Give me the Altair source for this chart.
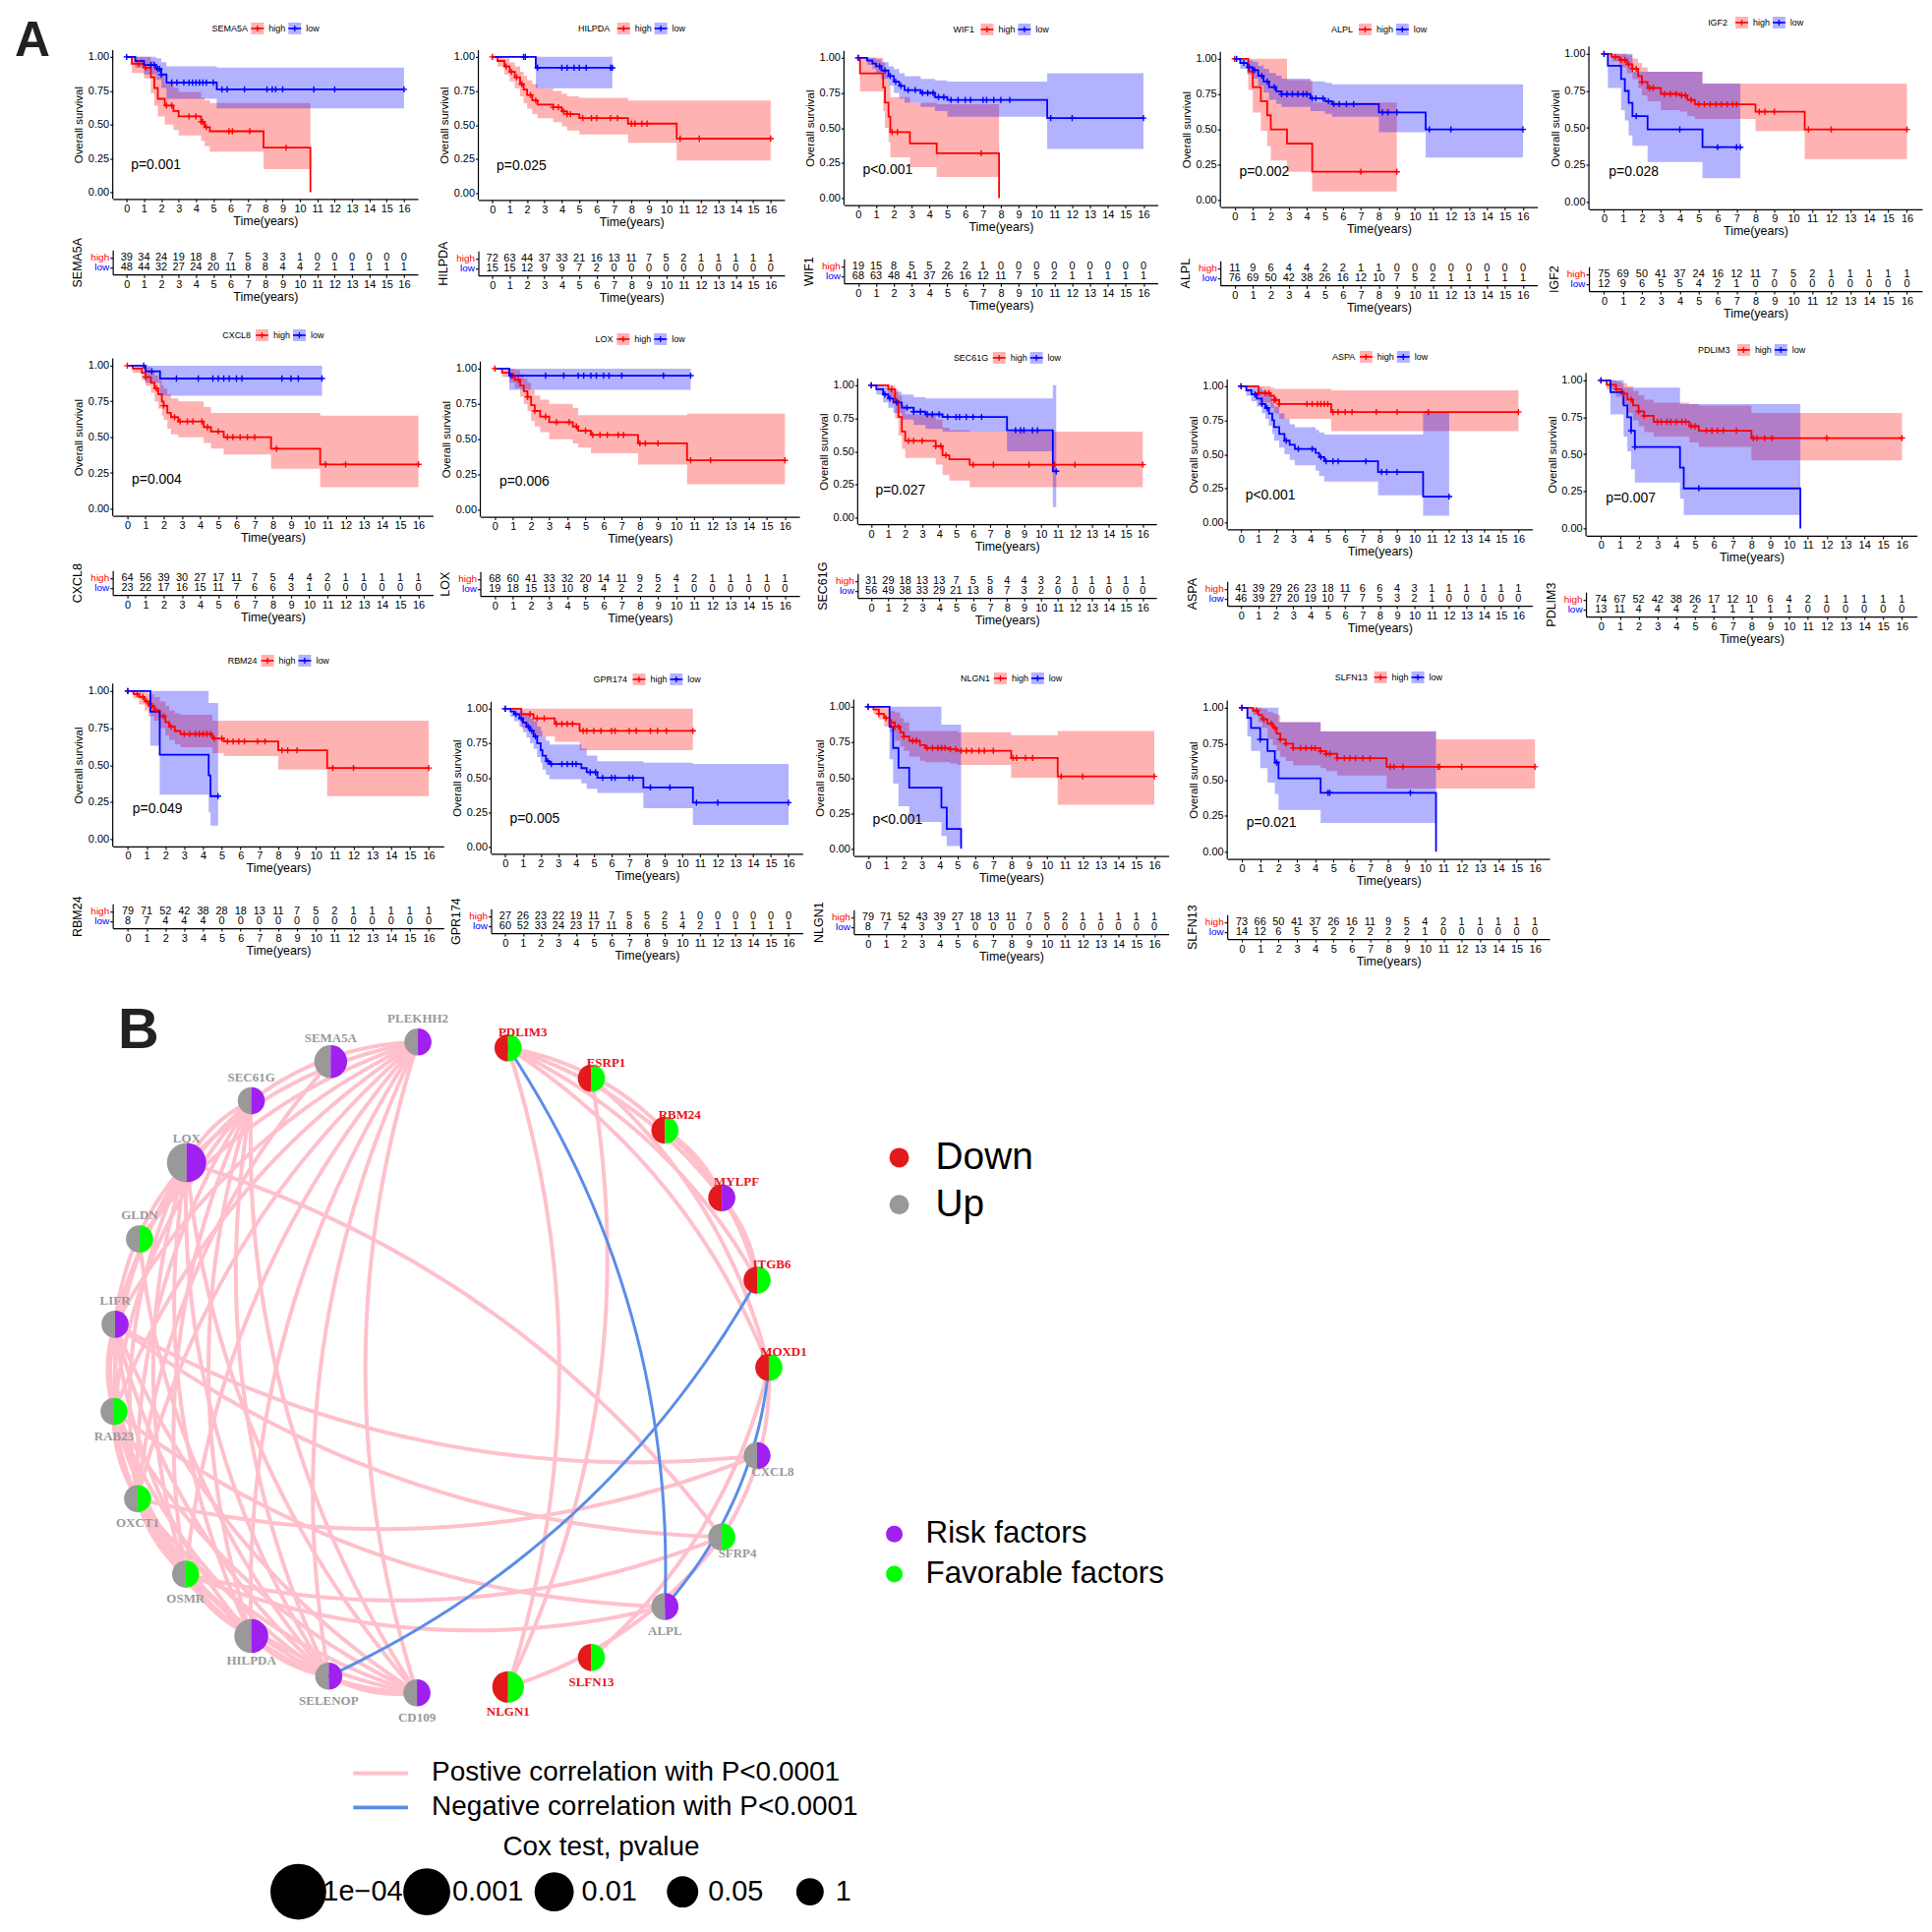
import math
import altair as alt
import pandas as pd

# ------------------------------------------------------------------ data (A)
GENES = ["SEMA5A", "HILPDA", "WIF1", "ALPL", "IGF2", "CXCL8", "LOX", "SEC61G",
         "ASPA", "PDLIM3", "RBM24", "GPR174", "NLGN1", "SLFN13"]
P_LABELS = ["p=0.001", "p=0.025", "p<0.001", "p=0.002", "p=0.028", "p=0.004", "p=0.006",
            "p=0.027", "p<0.001", "p=0.007", "p=0.049", "p=0.005", "p<0.001", "p=0.021"]
TIMES = list(range(17))

# (time, survival, lower CI, upper CI) step points; last point = end of follow-up
SEMA5A_HIGH = [(0,1,1,1),(0.3,0.95,0.88,1.0),(1.0,0.92,0.84,1.0),(1.4,0.85,0.73,0.97),(1.6,0.77,0.64,0.92),(1.8,0.69,0.56,0.86),(2.2,0.64,0.50,0.80),(2.7,0.60,0.46,0.77),(3.0,0.56,0.42,0.74),(4.3,0.52,0.38,0.70),(4.5,0.48,0.34,0.68),(4.8,0.45,0.30,0.66),(7.9,0.33,0.17,0.66),(10.6,0.0,0.17,0.66)]
SEMA5A_HIGH_CENS = [0.7,1.1,2.3,2.6,3.6,4.0,4.3,4.4,4.6,5.9,6.1,7.1,9.2]
SEMA5A_LOW = [(0,1,1,1),(0.5,0.97,0.92,1.0),(1.0,0.94,0.87,1.0),(1.7,0.91,0.83,0.99),(2.0,0.87,0.77,0.96),(2.3,0.81,0.69,0.93),(5.2,0.76,0.62,0.92),(16.0,0.76,0.62,0.92)]
SEMA5A_LOW_CENS = [0.0,1.4,1.6,1.8,1.9,2.0,2.6,2.9,3.3,3.6,3.8,4.0,4.2,4.4,4.6,5.0,5.5,5.8,6.8,8.1,8.4,8.6,9.0,10.8,12.0,16.0]
SEMA5A_RISK_HIGH = [39,34,24,19,18,8,7,5,3,3,1,0,0,0,0,0,0]
SEMA5A_RISK_LOW = [48,44,32,27,24,20,11,8,8,4,4,2,1,1,1,1,1]

HILPDA_HIGH = [(0,1,1,1),(0.3,0.97,0.93,1.0),(0.7,0.93,0.87,0.99),(1.0,0.89,0.82,0.96),(1.3,0.85,0.77,0.93),(1.6,0.80,0.71,0.89),(1.8,0.76,0.66,0.86),(2.0,0.72,0.62,0.83),(2.3,0.68,0.58,0.80),(2.6,0.65,0.55,0.77),(3.5,0.63,0.52,0.75),(4.0,0.60,0.49,0.73),(4.3,0.58,0.46,0.71),(5.0,0.55,0.43,0.70),(7.8,0.51,0.37,0.68),(10.6,0.40,0.24,0.68),(16.0,0.40,0.24,0.68)]
HILPDA_HIGH_CENS = [0.0,0.8,1.1,1.4,1.7,2.2,2.5,3.5,3.8,4.1,4.3,4.5,5.2,5.7,6.0,6.8,7.2,8.0,8.2,8.6,8.9,10.8,11.9,16.0]
HILPDA_LOW = [(0,1,1,1),(2.5,0.92,0.77,1.0),(6.9,0.92,0.77,1.0)]
HILPDA_LOW_CENS = [1.8,1.9,2.6,4.0,4.3,4.7,5.0,5.4,6.8,6.9]
HILPDA_RISK_HIGH = [72,63,44,37,33,21,16,13,11,7,5,2,1,1,1,1,1]
HILPDA_RISK_LOW = [15,15,12,9,9,7,2,0,0,0,0,0,0,0,0,0,0]

WIF1_HIGH = [(0,1,1,1),(0.1,0.89,0.76,1.0),(1.4,0.79,0.62,0.97),(1.5,0.68,0.50,0.90),(1.7,0.58,0.40,0.80),(1.8,0.47,0.29,0.72),(2.9,0.39,0.22,0.68),(4.4,0.32,0.15,0.67),(7.9,0.0,0.15,0.67)]
WIF1_HIGH_CENS = [0.0,1.9,2.2,6.9]
WIF1_LOW = [(0,1,1,1),(0.5,0.98,0.95,1.0),(0.8,0.96,0.92,1.0),(1.0,0.94,0.89,0.99),(1.3,0.91,0.85,0.97),(1.7,0.87,0.80,0.94),(2.0,0.83,0.75,0.92),(2.3,0.80,0.71,0.89),(2.6,0.77,0.68,0.87),(3.5,0.75,0.65,0.85),(4.3,0.72,0.62,0.84),(5.0,0.70,0.58,0.83),(10.6,0.57,0.35,0.89),(16.0,0.57,0.35,0.89)]
WIF1_LOW_CENS = [0.0,1.2,1.5,1.8,2.1,2.4,2.8,3.2,3.6,3.9,4.2,4.5,4.8,5.2,5.6,6.0,6.3,7.0,7.2,7.6,8.0,8.5,10.8,12.0,16.0]
WIF1_RISK_HIGH = [19,15,8,5,5,2,2,1,0,0,0,0,0,0,0,0,0]
WIF1_RISK_LOW = [68,63,48,41,37,26,16,12,11,7,5,2,1,1,1,1,1]

ALPL_HIGH = [(0,1,1,1),(0.75,0.91,0.78,1.0),(1.0,0.80,0.62,1.0),(1.45,0.70,0.49,1.0),(1.8,0.60,0.38,1.0),(2.0,0.50,0.28,1.0),(2.9,0.40,0.20,0.85),(4.3,0.20,0.06,0.69),(9.0,0.20,0.06,0.69)]
ALPL_HIGH_CENS = [0.0,7.0,9.0]
ALPL_LOW = [(0,1,1,1),(0.3,0.97,0.93,1.0),(0.7,0.94,0.89,0.99),(1.0,0.92,0.86,0.98),(1.3,0.88,0.81,0.95),(1.6,0.84,0.76,0.93),(1.9,0.80,0.71,0.90),(2.3,0.77,0.68,0.88),(2.6,0.75,0.66,0.86),(4.2,0.72,0.63,0.84),(5.0,0.70,0.61,0.83),(5.4,0.68,0.59,0.82),(8.0,0.62,0.48,0.82),(10.6,0.50,0.30,0.82),(16.0,0.50,0.30,0.82)]
ALPL_LOW_CENS = [0.1,0.5,0.8,1.1,1.5,1.8,2.2,2.6,2.9,3.2,3.5,3.8,4.0,4.3,4.5,4.9,5.2,5.5,5.8,6.2,6.6,8.2,8.5,9.0,10.8,12.0,16.0]
ALPL_RISK_HIGH = [11,9,6,4,4,2,2,1,1,0,0,0,0,0,0,0,0]
ALPL_RISK_LOW = [76,69,50,42,38,26,16,12,10,7,5,2,1,1,1,1,1]

IGF2_HIGH = [(0,1,1,1),(0.4,0.98,0.95,1.0),(0.8,0.96,0.91,1.0),(1.2,0.93,0.87,0.99),(1.5,0.90,0.83,0.97),(1.8,0.85,0.77,0.94),(2.0,0.81,0.72,0.91),(2.3,0.77,0.68,0.88),(3.0,0.73,0.62,0.88),(4.0,0.72,0.61,0.88),(4.4,0.69,0.58,0.88),(4.8,0.66,0.56,0.88),(5.2,0.66,0.56,0.80),(8.0,0.61,0.48,0.80),(10.6,0.49,0.29,0.80),(16.0,0.49,0.29,0.80)]
IGF2_HIGH_CENS = [0.0,0.6,0.9,1.1,1.3,1.5,1.7,2.0,2.4,2.6,3.2,3.5,3.8,4.1,4.3,4.6,5.0,5.3,5.6,5.9,6.2,6.5,6.8,7.0,8.2,8.5,9.0,10.8,12.0,16.0]
IGF2_LOW = [(0,1,1,1),(0.2,0.92,0.77,1.0),(0.9,0.83,0.62,1.0),(1.1,0.75,0.55,1.0),(1.3,0.67,0.45,1.0),(1.5,0.58,0.38,0.88),(2.3,0.49,0.27,0.88),(5.2,0.37,0.16,0.80),(7.2,0.37,0.16,0.80)]
IGF2_LOW_CENS = [0.0,1.7,4.0,6.0,7.0,7.2]
IGF2_RISK_HIGH = [75,69,50,41,37,24,16,12,11,7,5,2,1,1,1,1,1]
IGF2_RISK_LOW = [12,9,6,5,5,4,2,1,0,0,0,0,0,0,0,0,0]

CXCL8_HIGH = [(0,1,1,1),(0.3,0.98,0.95,1.0),(0.8,0.95,0.90,1.0),(1.0,0.92,0.86,0.99),(1.3,0.88,0.81,0.96),(1.5,0.84,0.75,0.93),(1.7,0.80,0.70,0.90),(1.9,0.75,0.65,0.86),(2.0,0.72,0.62,0.84),(2.2,0.67,0.56,0.80),(2.4,0.64,0.52,0.77),(2.8,0.61,0.50,0.75),(4.2,0.57,0.46,0.71),(4.6,0.54,0.42,0.67),(5.3,0.50,0.38,0.67),(7.9,0.42,0.28,0.67),(10.6,0.31,0.15,0.65),(16.0,0.31,0.15,0.65)]
CXCL8_HIGH_CENS = [0.0,1.0,1.6,2.0,2.6,2.9,3.3,3.6,4.1,4.4,5.0,5.5,5.8,6.2,6.6,7.0,8.2,10.9,12.0,16.0]
CXCL8_LOW = [(0,1,1,1),(1.0,0.96,0.88,1.0),(1.8,0.91,0.79,1.0),(10.7,0.91,0.79,1.0)]
CXCL8_LOW_CENS = [0.9,1.35,2.7,3.9,4.7,5.0,5.3,5.6,6.0,6.3,8.5,9.0,9.4,10.7]
CXCL8_RISK_HIGH = [64,56,39,30,27,17,11,7,5,4,4,2,1,1,1,1,1]
CXCL8_RISK_LOW = [23,22,17,16,15,11,7,6,6,3,1,0,0,0,0,0,0]

LOX_HIGH = [(0,1,1,1),(0.4,0.97,0.94,1.0),(0.8,0.95,0.90,1.0),(1.1,0.92,0.86,0.99),(1.4,0.88,0.80,0.96),(1.6,0.84,0.75,0.93),(1.8,0.80,0.70,0.90),(2.0,0.74,0.63,0.85),(2.2,0.70,0.59,0.81),(2.5,0.66,0.55,0.78),(3.0,0.62,0.50,0.75),(4.3,0.59,0.47,0.72),(4.6,0.56,0.44,0.67),(5.3,0.53,0.40,0.67),(7.9,0.47,0.32,0.67),(10.6,0.35,0.18,0.68),(16.0,0.35,0.18,0.68)]
LOX_HIGH_CENS = [0.0,1.0,1.3,1.8,2.2,2.8,3.4,4.1,4.5,5.0,5.4,5.8,6.2,6.8,7.1,8.0,8.3,9.0,10.8,11.9,16.0]
LOX_LOW = [(0,1,1,1),(0.8,0.95,0.85,1.0),(10.8,0.95,0.85,1.0)]
LOX_LOW_CENS = [0.9,2.8,3.8,4.6,4.9,5.3,5.6,6.0,6.3,7.0,9.3,10.8]
LOX_RISK_HIGH = [68,60,41,33,32,20,14,11,9,5,4,2,1,1,1,1,1]
LOX_RISK_LOW = [19,18,15,13,10,8,4,2,2,2,1,0,0,0,0,0,0]

SEC61G_HIGH = [(0,1,1,1),(1.0,0.97,0.91,1.0),(1.4,0.88,0.75,0.97),(1.6,0.76,0.62,0.92),(1.8,0.65,0.52,0.85),(2.0,0.58,0.45,0.78),(3.8,0.54,0.40,0.74),(4.2,0.47,0.32,0.68),(4.6,0.44,0.28,0.66),(5.8,0.40,0.23,0.65),(16.0,0.40,0.23,0.65)]
SEC61G_HIGH_CENS = [0.0,1.2,1.5,2.2,2.5,3.0,3.8,4.1,4.4,6.0,7.2,9.3,10.8,12.0,16.0]
SEC61G_LOW = [(0,1,1,1),(0.3,0.97,0.93,1.0),(0.7,0.93,0.87,0.99),(1.0,0.90,0.83,0.97),(1.3,0.87,0.79,0.95),(1.8,0.83,0.74,0.93),(2.5,0.80,0.70,0.91),(3.2,0.78,0.67,0.90),(4.2,0.76,0.65,0.90),(8.0,0.66,0.50,0.90),(10.7,0.35,0.08,1.0),(10.9,0.35,0.08,1.0)]
SEC61G_LOW_CENS = [0.0,0.8,1.1,1.5,2.1,2.5,2.9,3.3,3.6,4.0,4.5,5.0,5.2,5.6,6.0,6.5,8.5,8.8,9.0,9.5,9.8,10.9]
SEC61G_RISK_HIGH = [31,29,18,13,13,7,5,5,4,4,3,2,1,1,1,1,1]
SEC61G_RISK_LOW = [56,49,38,33,29,21,13,8,7,3,2,0,0,0,0,0,0]

ASPA_HIGH = [(0,1,1,1),(1.0,0.95,0.88,1.0),(1.7,0.93,0.84,0.99),(1.9,0.90,0.80,0.98),(2.2,0.87,0.76,0.98),(5.2,0.81,0.67,0.97),(16.0,0.81,0.67,0.97)]
ASPA_HIGH_CENS = [0.0,1.0,1.4,1.6,1.9,2.0,2.2,3.8,4.1,4.4,4.6,4.8,5.0,5.3,5.6,6.0,6.4,7.8,9.0,10.8,16.0]
ASPA_LOW = [(0,1,1,1),(0.3,0.97,0.93,1.0),(0.6,0.94,0.89,1.0),(0.9,0.91,0.85,0.99),(1.2,0.87,0.80,0.97),(1.4,0.84,0.76,0.95),(1.6,0.80,0.71,0.93),(1.8,0.75,0.65,0.88),(1.9,0.70,0.60,0.85),(2.2,0.65,0.55,0.80),(2.5,0.60,0.50,0.76),(2.8,0.57,0.46,0.72),(3.1,0.54,0.42,0.70),(4.3,0.51,0.38,0.68),(4.5,0.48,0.34,0.66),(4.8,0.45,0.30,0.645),(7.9,0.37,0.20,0.645),(10.5,0.19,0.05,0.81),(12.0,0.19,0.05,0.81)]
ASPA_LOW_CENS = [0.0,0.8,1.2,1.5,2.6,3.3,4.1,4.6,4.9,5.3,5.6,7.2,8.1,8.4,9.0,12.0]
ASPA_RISK_HIGH = [41,39,29,26,23,18,11,6,6,4,3,1,1,1,1,1,1]
ASPA_RISK_LOW = [46,39,27,20,19,10,7,7,5,3,2,1,0,0,0,0,0]

PDLIM3_HIGH = [(0,1,1,1),(0.3,0.97,0.94,1.0),(0.8,0.94,0.89,0.99),(1.1,0.91,0.84,0.98),(1.4,0.87,0.78,0.96),(1.7,0.83,0.73,0.93),(2.0,0.79,0.69,0.90),(2.3,0.76,0.65,0.87),(2.8,0.72,0.62,0.85),(4.7,0.69,0.58,0.84),(5.2,0.66,0.55,0.83),(8.0,0.61,0.46,0.78),(16.0,0.61,0.46,0.78)]
PDLIM3_HIGH_CENS = [0.0,0.8,1.2,1.6,2.0,2.3,3.0,3.2,3.5,3.7,4.0,4.3,4.5,4.8,5.0,5.6,5.9,6.2,6.5,7.2,8.1,8.3,8.7,9.1,12.0,16.0]
PDLIM3_LOW = [(0,1,1,1),(0.5,0.92,0.77,1.0),(1.2,0.83,0.62,0.95),(1.4,0.75,0.52,0.95),(1.6,0.66,0.40,0.95),(1.8,0.55,0.31,0.95),(4.2,0.41,0.20,0.84),(4.4,0.27,0.09,0.84),(10.6,0.0,0.09,0.84)]
PDLIM3_LOW_CENS = [0.0,1.6,1.8,5.2]
PDLIM3_RISK_HIGH = [74,67,52,42,38,26,17,12,10,6,4,2,1,1,1,1,1]
PDLIM3_RISK_LOW = [13,11,4,4,4,2,1,1,1,1,1,0,0,0,0,0,0]

RBM24_HIGH = [(0,1,1,1),(0.3,0.98,0.95,1.0),(0.6,0.96,0.91,1.0),(0.9,0.93,0.87,0.99),(1.1,0.90,0.83,0.98),(1.4,0.87,0.80,0.96),(1.7,0.83,0.75,0.93),(2.0,0.79,0.70,0.90),(2.2,0.76,0.67,0.87),(2.5,0.73,0.64,0.85),(2.8,0.71,0.62,0.84),(4.5,0.68,0.58,0.80),(5.1,0.66,0.56,0.80),(8.0,0.60,0.47,0.80),(10.6,0.48,0.29,0.80),(16.0,0.48,0.29,0.80)]
RBM24_HIGH_CENS = [0.0,0.5,0.8,1.0,1.3,1.5,1.9,2.3,3.0,3.3,3.6,3.8,4.0,4.2,4.4,4.6,5.0,5.3,5.6,5.9,6.2,6.9,7.3,8.2,8.5,9.0,10.9,12.0,16.0]
RBM24_LOW = [(0,1,1,1),(1.2,0.86,0.63,1.0),(1.7,0.57,0.30,1.0),(4.3,0.43,0.18,0.92),(4.4,0.29,0.09,0.92),(4.8,0.29,0.09,0.92)]
RBM24_LOW_CENS = [0.0,4.8]
RBM24_RISK_HIGH = [79,71,52,42,38,28,18,13,11,7,5,2,1,1,1,1,1]
RBM24_RISK_LOW = [8,7,4,4,4,0,0,0,0,0,0,0,0,0,0,0,0]

GPR174_HIGH = [(0,1,1,1),(0.9,0.96,0.86,1.0),(1.6,0.93,0.80,1.0),(2.8,0.89,0.76,1.0),(4.2,0.84,0.70,1.0),(10.6,0.84,0.70,1.0)]
GPR174_HIGH_CENS = [0.0,1.4,1.8,2.2,2.9,3.2,3.5,3.8,4.4,4.6,5.0,5.4,6.0,6.2,7.0,7.4,8.2,8.6,9.1,10.6]
GPR174_LOW = [(0,1,1,1),(0.3,0.98,0.94,1.0),(0.5,0.96,0.91,1.0),(0.8,0.93,0.87,0.99),(1.0,0.90,0.83,0.97),(1.2,0.87,0.79,0.96),(1.4,0.84,0.75,0.93),(1.6,0.80,0.71,0.91),(1.8,0.75,0.65,0.87),(2.0,0.70,0.61,0.84),(2.1,0.66,0.56,0.80),(2.3,0.62,0.52,0.77),(2.5,0.60,0.49,0.74),(4.3,0.57,0.46,0.71),(4.6,0.54,0.42,0.66),(5.2,0.50,0.39,0.62),(7.8,0.43,0.28,0.61),(10.6,0.32,0.16,0.60),(16.0,0.32,0.16,0.60)]
GPR174_LOW_CENS = [0.0,0.6,0.9,1.3,1.5,1.7,2.4,2.6,3.2,3.5,3.8,4.0,4.8,5.1,5.5,6.0,6.2,7.0,7.2,8.2,9.3,10.8,12.0,16.0]
GPR174_RISK_HIGH = [27,26,23,22,19,11,7,5,5,2,1,0,0,0,0,0,0]
GPR174_RISK_LOW = [60,52,33,24,23,17,11,8,6,5,4,2,1,1,1,1,1]

NLGN1_HIGH = [(0,1,1,1),(0.3,0.98,0.95,1.0),(0.6,0.95,0.91,1.0),(0.9,0.92,0.86,0.99),(1.2,0.89,0.82,0.97),(1.5,0.86,0.76,0.96),(1.8,0.82,0.72,0.92),(2.0,0.79,0.69,0.89),(2.3,0.76,0.65,0.83),(2.9,0.73,0.62,0.83),(3.2,0.71,0.61,0.83),(4.6,0.70,0.60,0.83),(5.0,0.69,0.59,0.82),(8.0,0.64,0.50,0.80),(10.6,0.51,0.31,0.83),(16.0,0.51,0.31,0.83)]
NLGN1_HIGH_CENS = [0.0,0.6,1.0,1.3,1.5,1.7,2.0,2.5,2.7,3.3,3.6,3.9,4.1,4.3,4.6,4.9,5.2,5.5,5.8,6.2,6.5,7.0,8.1,8.3,8.8,9.2,10.8,12.0,16.0]
NLGN1_LOW = [(0,1,1,1),(1.2,0.86,0.63,1.0),(1.4,0.71,0.46,1.0),(1.7,0.57,0.30,1.0),(2.3,0.43,0.19,1.0),(4.1,0.29,0.09,0.875),(4.4,0.14,0.02,0.875),(5.2,0.0,0.02,0.875)]
NLGN1_LOW_CENS = [0.0]
NLGN1_RISK_HIGH = [79,71,52,43,39,27,18,13,11,7,5,2,1,1,1,1,1]
NLGN1_RISK_LOW = [8,7,4,3,3,1,0,0,0,0,0,0,0,0,0,0,0]

SLFN13_HIGH = [(0,1,1,1),(0.6,0.98,0.95,1.0),(0.9,0.95,0.90,1.0),(1.1,0.92,0.86,0.99),(1.4,0.89,0.78,0.97),(1.7,0.86,0.74,0.96),(1.9,0.82,0.70,0.95),(2.1,0.78,0.66,0.90),(2.4,0.75,0.63,0.90),(2.8,0.72,0.60,0.90),(4.3,0.70,0.58,0.835),(4.6,0.68,0.56,0.835),(5.2,0.65,0.53,0.835),(7.9,0.59,0.44,0.835),(10.6,0.59,0.44,0.78),(16.0,0.59,0.44,0.78)]
SLFN13_HIGH_CENS = [0.0,0.8,1.2,1.6,1.8,2.1,2.4,2.8,3.2,3.5,3.8,4.0,4.3,4.6,4.8,5.2,5.6,5.9,6.2,6.6,7.0,8.1,8.3,8.8,10.7,10.8,12.0,16.0]
SLFN13_LOW = [(0,1,1,1),(0.3,0.93,0.80,1.0),(0.5,0.86,0.70,1.0),(1.0,0.78,0.58,1.0),(1.4,0.70,0.48,1.0),(1.8,0.62,0.40,1.0),(2.0,0.51,0.29,0.90),(4.3,0.41,0.20,0.836),(10.6,0.0,0.20,0.836)]
SLFN13_LOW_CENS = [0.0,1.0,1.9,4.7,4.8,9.2]
SLFN13_RISK_HIGH = [73,66,50,41,37,26,16,11,9,5,4,2,1,1,1,1,1]
SLFN13_RISK_LOW = [14,12,6,5,5,2,2,2,2,2,1,0,0,0,0,0,0]

# ------------------------------------------------------------------ data (B)
NODE_NAMES = ["PLEKHH2","SEMA5A","SEC61G","LOX","GLDN","LIFR","RAB23","OXCT1","OSMR","HILPDA","SELENOP","CD109",
              "NLGN1","SLFN13","ALPL","SFRP4","CXCL8","MOXD1","ITGB6","MYLPF","RBM24","ESRP1","PDLIM3"]
NODE_X = [426,337,256,190,142,117,116,140,189,256,335,425,518,603,678,736,772,784,772,736,678,603,518]
NODE_Y = [1054,1074,1114,1177,1255,1342,1431,1520,1597,1660,1701,1718,1712,1682,1630,1559,1476,1386,1297,1213,1144,1091,1060]
NODE_REG = ["Up"]*12 + ["Down","Down","Up","Up","Up","Down","Down","Down","Down","Down","Down"]
NODE_ROLE = ["Risk","Risk","Risk","Risk","Favorable","Risk","Favorable","Favorable","Favorable","Risk","Risk","Risk",
             "Favorable","Favorable","Risk","Favorable","Risk","Favorable","Favorable","Risk","Favorable","Favorable","Favorable"]
NODE_COX_P = [0.5,0.012,0.5,0.001,0.5,0.5,0.5,0.5,0.5,0.008,0.5,0.5,0.02,0.5,0.5,0.5,0.6,0.5,0.5,0.5,0.5,0.5,0.5]
NODE_LABEL_POS = ["above"]*6 + ["below"]*9 + ["belowright"]*2 + ["aboveright"]*6

EDGES_POS = [
    ("PLEKHH2","SEC61G"),("PLEKHH2","LOX"),("PLEKHH2","GLDN"),("PLEKHH2","LIFR"),("PLEKHH2","RAB23"),
    ("PLEKHH2","OXCT1"),("PLEKHH2","OSMR"),("PLEKHH2","HILPDA"),("PLEKHH2","SELENOP"),("PLEKHH2","CD109"),
    ("SEMA5A","OXCT1"),
    ("SEC61G","LOX"),("SEC61G","LIFR"),("SEC61G","RAB23"),("SEC61G","OXCT1"),("SEC61G","OSMR"),
    ("SEC61G","HILPDA"),("SEC61G","SELENOP"),("SEC61G","CD109"),
    ("LOX","LIFR"),("LOX","RAB23"),("LOX","OXCT1"),("LOX","OSMR"),("LOX","HILPDA"),("LOX","SELENOP"),
    ("LOX","CD109"),("LOX","SFRP4"),
    ("GLDN","SELENOP"),
    ("LIFR","RAB23"),("LIFR","OXCT1"),("LIFR","OSMR"),("LIFR","HILPDA"),("LIFR","SELENOP"),("LIFR","CD109"),
    ("LIFR","CXCL8"),("LIFR","SFRP4"),
    ("RAB23","OXCT1"),("RAB23","OSMR"),("RAB23","HILPDA"),("RAB23","SELENOP"),("RAB23","CD109"),("RAB23","ALPL"),
    ("OXCT1","OSMR"),("OXCT1","HILPDA"),("OXCT1","SELENOP"),("OXCT1","CD109"),("OXCT1","CXCL8"),
    ("OSMR","HILPDA"),("OSMR","SELENOP"),("OSMR","CD109"),("OSMR","SFRP4"),
    ("HILPDA","SELENOP"),("HILPDA","CD109"),("SELENOP","CD109"),
    ("PDLIM3","RBM24"),("PDLIM3","MYLPF"),("PDLIM3","ITGB6"),("PDLIM3","MOXD1"),("PDLIM3","NLGN1"),
    ("ESRP1","MOXD1"),("ESRP1","NLGN1"),
    ("RBM24","MYLPF"),("RBM24","ITGB6"),("MYLPF","ITGB6"),
    ("MOXD1","SFRP4"),("MOXD1","SLFN13"),("SFRP4","NLGN1"),("ALPL","OSMR"),
]
EDGES_NEG = [("PDLIM3","ALPL"),("ITGB6","SELENOP"),("MOXD1","ALPL")]

# ------------------------------------------------------------------ layout / style
FONT = "Liberation Sans"
SERIF = "Liberation Serif"
RED = "#FF0000"
BLUE = "#0000FF"
PLUS = "M-1,0L1,0M0,-1L0,1"
LEFT_HALF = "M0,-1A1,1,0,0,0,0,1Z"
RIGHT_HALF = "M0,-1A1,1,0,0,1,0,1Z"
PINK = "#FFC0CB"
NEGBLUE = "#5B8DE8"
CAT_COLORS = {"Down": "#E31A1C", "Up": "#999999", "Risk": "#A020F0", "Favorable": "#00FF00"}

# panel geometry (page px): tick0, tick16, y of 1.00, y of 0.00, legend y, risk "high" y
GEOM = {
    "SEMA5A": (126, 409, 55, 193, 26, 259), "HILPDA": (499, 783, 55, 194, 26, 260),
    "WIF1": (872, 1163, 56, 199, 27, 267), "ALPL": (1256, 1550, 57, 201, 27, 269),
    "IGF2": (1632, 1941, 52, 203, 20, 276),
    "CXCL8": (129, 426, 368, 514, 337, 583), "LOX": (503, 799, 371, 515, 341, 584),
    "SEC61G": (887, 1164, 388, 523, 360, 587), "ASPA": (1264, 1547, 389, 528, 359, 595),
    "PDLIM3": (1631, 1938, 383, 534, 352, 606),
    "RBM24": (130, 437, 698, 849, 667, 922), "GPR174": (515, 804, 716, 857, 686, 926),
    "NLGN1": (885, 1177, 714, 859, 685, 927), "SLFN13": (1266, 1565, 715, 862, 684, 932),
}
ROWS = [GENES[0:5], GENES[5:10], GENES[10:14]]
ROW_TOP = [8, 328, 658, 985]
B_BOTTOM = 1955

CURVES = {
    "SEMA5A": (SEMA5A_HIGH, SEMA5A_HIGH_CENS, SEMA5A_LOW, SEMA5A_LOW_CENS, SEMA5A_RISK_HIGH, SEMA5A_RISK_LOW),
    "HILPDA": (HILPDA_HIGH, HILPDA_HIGH_CENS, HILPDA_LOW, HILPDA_LOW_CENS, HILPDA_RISK_HIGH, HILPDA_RISK_LOW),
    "WIF1": (WIF1_HIGH, WIF1_HIGH_CENS, WIF1_LOW, WIF1_LOW_CENS, WIF1_RISK_HIGH, WIF1_RISK_LOW),
    "ALPL": (ALPL_HIGH, ALPL_HIGH_CENS, ALPL_LOW, ALPL_LOW_CENS, ALPL_RISK_HIGH, ALPL_RISK_LOW),
    "IGF2": (IGF2_HIGH, IGF2_HIGH_CENS, IGF2_LOW, IGF2_LOW_CENS, IGF2_RISK_HIGH, IGF2_RISK_LOW),
    "CXCL8": (CXCL8_HIGH, CXCL8_HIGH_CENS, CXCL8_LOW, CXCL8_LOW_CENS, CXCL8_RISK_HIGH, CXCL8_RISK_LOW),
    "LOX": (LOX_HIGH, LOX_HIGH_CENS, LOX_LOW, LOX_LOW_CENS, LOX_RISK_HIGH, LOX_RISK_LOW),
    "SEC61G": (SEC61G_HIGH, SEC61G_HIGH_CENS, SEC61G_LOW, SEC61G_LOW_CENS, SEC61G_RISK_HIGH, SEC61G_RISK_LOW),
    "ASPA": (ASPA_HIGH, ASPA_HIGH_CENS, ASPA_LOW, ASPA_LOW_CENS, ASPA_RISK_HIGH, ASPA_RISK_LOW),
    "PDLIM3": (PDLIM3_HIGH, PDLIM3_HIGH_CENS, PDLIM3_LOW, PDLIM3_LOW_CENS, PDLIM3_RISK_HIGH, PDLIM3_RISK_LOW),
    "RBM24": (RBM24_HIGH, RBM24_HIGH_CENS, RBM24_LOW, RBM24_LOW_CENS, RBM24_RISK_HIGH, RBM24_RISK_LOW),
    "GPR174": (GPR174_HIGH, GPR174_HIGH_CENS, GPR174_LOW, GPR174_LOW_CENS, GPR174_RISK_HIGH, GPR174_RISK_LOW),
    "NLGN1": (NLGN1_HIGH, NLGN1_HIGH_CENS, NLGN1_LOW, NLGN1_LOW_CENS, NLGN1_RISK_HIGH, NLGN1_RISK_LOW),
    "SLFN13": (SLFN13_HIGH, SLFN13_HIGH_CENS, SLFN13_LOW, SLFN13_LOW_CENS, SLFN13_RISK_HIGH, SLFN13_RISK_LOW),
}

ONE = pd.DataFrame({"v": [0]})


def step_value(pts, t):
    v = pts[0][1]
    for tt, s, lo, hi in pts:
        if tt <= t + 1e-9:
            v = s
    return v


XS = alt.Scale(domain=[-0.8, 16.8], nice=False, zero=False)
CS = alt.Scale(domain=["high", "low"], range=[RED, BLUE])
XAX = alt.Axis(values=TIMES, title="Time(years)", labelFontSize=11, titleFontSize=12.5,
               tickSize=3, labelPadding=1, titlePadding=1, labelFlush=False)


def legend_layers(gene, cx, cy):
    wg = 6.0 * len(gene)
    s = cx - (wg + 73) / 2
    L = []
    L.append(alt.Chart(ONE).mark_text(align="left", baseline="middle", fontSize=9, font=FONT, color="black")
             .encode(x=alt.value(s), y=alt.value(cy), text=alt.value(gene)))
    for col, x0, lab in ((RED, s + wg + 4, "high"), (BLUE, s + wg + 42, "low")):
        L.append(alt.Chart(ONE).mark_rect(color=col, opacity=0.3)
                 .encode(x=alt.value(x0), x2=alt.value(x0 + 13), y=alt.value(cy - 6), y2=alt.value(cy + 6)))
        L.append(alt.Chart(ONE).mark_rule(color=col, strokeWidth=1.6)
                 .encode(x=alt.value(x0), x2=alt.value(x0 + 13), y=alt.value(cy)))
        L.append(alt.Chart(ONE).mark_point(shape=PLUS, filled=False, size=36, strokeWidth=1.3, color=col, opacity=1)
                 .encode(x=alt.value(x0 + 6.5), y=alt.value(cy)))
        L.append(alt.Chart(ONE).mark_text(align="left", baseline="middle", fontSize=9, font=FONT, color="black")
                 .encode(x=alt.value(x0 + 18), y=alt.value(cy), text=alt.value(lab)))
    return L


def make_panel(gene, pval, r, b_left, b_right, first):
    t0, t16, y1, y0, leg_y, risk_y = GEOM[gene]
    w = t16 - t0
    pl = t0 - 0.05 * w
    pw = 1.1 * w
    span = y0 - y1
    ptop = y1 - 0.05 * span
    ph = 1.1 * span
    pbot = ptop + ph
    F = ROW_TOP[r]                 # common top of every plot frame in the row
    H = pbot - F                   # frame height (plot + room for the legend above it)
    ymax = -0.05 + 1.1 * H / ph
    YS = alt.Scale(domain=[-0.05, ymax], nice=False, zero=False)
    YAX = alt.Axis(values=[0, 0.25, 0.5, 0.75, 1.0], format=".2f", title="Overall survival", titleX=-29,
                   titleY=(ptop - F) + ph / 2, domain=False, labelFontSize=11, titleFontSize=11.5,
                   tickSize=3, labelPadding=1)
    L = pl - b_left
    R = b_right - (pl + pw)
    G = 32
    STEP = 10.0
    PAD = 0.75
    RH = STEP * (1 + 2 * PAD)
    Q = risk_y - PAD * STEP
    Tt = Q - (pbot + G)
    Bb = ROW_TOP[r + 1] - (Q + RH)

    high, high_c, low, low_c, rk_h, rk_l = CURVES[gene]
    rows = []
    for grp, pts in (("high", high), ("low", low)):
        for t, s, lo, hi in pts:
            rows.append({"grp": grp, "t": t, "s": s, "lo": lo, "hi": hi})
    cur = pd.DataFrame(rows)
    cens = pd.DataFrame([{"grp": grp, "t": t, "s": step_value(pts, t)}
                         for grp, pts, cl in (("high", high, high_c), ("low", low, low_c)) for t in cl])

    X = alt.X("t:Q", scale=XS, axis=XAX)
    C = alt.Color("grp:N", scale=CS, legend=None)
    layers = [
        alt.Chart(cur).mark_area(interpolate="step-after", opacity=0.3)
        .encode(x=X, y=alt.Y("lo:Q", scale=YS, axis=YAX), y2="hi:Q", color=C),
        alt.Chart(cur).mark_line(interpolate="step-after", strokeWidth=1.8)
        .encode(x=X, y=alt.Y("s:Q", scale=YS, axis=YAX), color=C),
        alt.Chart(cens).mark_point(shape=PLUS, filled=False, size=40, strokeWidth=1.4, opacity=1)
        .encode(x=X, y=alt.Y("s:Q", scale=YS, axis=YAX), color=C),
        alt.Chart(pd.DataFrame({"t": [0.25], "s": [0.2], "lab": [pval]}))
        .mark_text(align="left", baseline="middle", fontSize=14, font=FONT, color="black")
        .encode(x=X, y=alt.Y("s:Q", scale=YS, axis=YAX), text="lab:N"),
        alt.Chart(ONE).mark_rule(color="black", strokeWidth=1.2)
        .encode(x=alt.value(0), y=alt.datum(-0.05), y2=alt.datum(1.05)),
        alt.Chart(ONE).mark_rect(opacity=0)
        .encode(x=alt.value(-L), x2=alt.value(pw + R), y=alt.value(0), y2=alt.value(H + G)),
    ]
    layers += legend_layers(gene, pw / 2, leg_y - F)
    if first:
        layers.append(alt.Chart(ONE).mark_text(align="center", baseline="alphabetic", fontSize=50,
                                                fontWeight="bold", font=FONT, color="#222222")
                      .encode(x=alt.value(30 - pl), y=alt.value(54 - F), text=alt.value("A")))
    km = alt.layer(*layers).properties(width=pw, height=H)

    rk = pd.DataFrame({"t": TIMES * 2, "grp": ["high"] * 17 + ["low"] * 17, "n": rk_h + rk_l})
    txt = alt.Chart(rk).mark_text(fontSize=11, font=FONT, color="black").encode(
        x=alt.X("t:Q", scale=XS, axis=XAX),
        y=alt.Y("grp:N", scale=alt.Scale(type="point", domain=["high", "low"], padding=PAD),
                axis=alt.Axis(title=gene, titleX=-29, titleFontSize=12.5, labelFontSize=10,
                              labelColor=alt.ExprRef("datum.value == 'high' ? '#FF0000' : '#0000FF'"),
                              tickSize=3, labelPadding=1)),
        text="n:Q")
    rb = alt.Chart(ONE).mark_rect(opacity=0).encode(
        x=alt.value(-L), x2=alt.value(pw + R), y=alt.value(-Tt), y2=alt.value(RH + Bb))
    risk = alt.layer(txt, rb).properties(width=pw, height=RH)
    return alt.vconcat(km, risk, spacing=0)


row_charts = []
first_pls = []
for r, genes in enumerate(ROWS):
    pls = [GEOM[g][0] - 0.05 * (GEOM[g][1] - GEOM[g][0]) for g in genes]
    first_pls.append(pls[0])
    panels = []
    for i, g in enumerate(genes):
        b_left = 8 if i == 0 else pls[i] - 45
        if i < len(genes) - 1:
            b_right = pls[i + 1] - 45
        else:
            b_right = pls[i] + 1.1 * (GEOM[g][1] - GEOM[g][0]) + 2
        panels.append(make_panel(g, P_LABELS[GENES.index(g)], r, b_left, b_right, r == 0 and i == 0))
    row_charts.append(alt.hconcat(*panels, spacing=0))

X0 = max(first_pls)    # all stacked blocks share this left origin

# ------------------------------------------------------------------ panel B
nodes = pd.DataFrame({"name": NODE_NAMES, "x": NODE_X, "y": NODE_Y, "reg": NODE_REG,
                      "role": NODE_ROLE, "p": NODE_COX_P, "pos": NODE_LABEL_POS})
pos_of = {n: (x, y) for n, x, y in zip(NODE_NAMES, NODE_X, NODE_Y)}
CX = sum(NODE_X) / len(NODE_X)
CY = sum(NODE_Y) / len(NODE_Y)


def edge_frame(edges, k=0.16, n=30):
    rows = []
    for eid, (a, b) in enumerate(edges):
        (x0, y0), (x1, y1) = pos_of[a], pos_of[b]
        mx, my = (x0 + x1) / 2, (y0 + y1) / 2
        dx, dy = x1 - x0, y1 - y0
        ln = math.hypot(dx, dy)
        nx, ny = -dy / ln, dx / ln
        side = (mx - CX) * nx + (my - CY) * ny
        sg = 1 if side >= 0 else -1
        qx, qy = mx + sg * k * ln * nx, my + sg * k * ln * ny
        for i in range(n + 1):
            u = i / n
            rows.append({"eid": eid, "k": i,
                         "x": (1 - u) ** 2 * x0 + 2 * (1 - u) * u * qx + u ** 2 * x1,
                         "y": (1 - u) ** 2 * y0 + 2 * (1 - u) * u * qy + u ** 2 * y1})
    return pd.DataFrame(rows)


BW = 1208 - X0
BH = B_BOTTOM - ROW_TOP[3]
BX = alt.Scale(domain=[X0, 1208], nice=False, zero=False)
BY = alt.Scale(domain=[ROW_TOP[3], B_BOTTOM], nice=False, zero=False, reverse=True)
NX = alt.X("x:Q", scale=BX, axis=None)
NY = alt.Y("y:Q", scale=BY, axis=None)
SIZE = alt.Scale(type="log", domain=[1e-4, 1e-3, 1e-2, 0.05, 1], range=[46 ** 2, 40 ** 2, 34 ** 2, 30 ** 2, 27 ** 2])


def px(xp):
    return xp - X0


def py(yp):
    return yp - ROW_TOP[3]


b_layers = [
    alt.Chart(edge_frame(EDGES_POS)).mark_line(color=PINK, strokeWidth=4, strokeCap="round")
    .encode(x=NX, y=NY, detail="eid:N", order="k:Q"),
    alt.Chart(edge_frame(EDGES_NEG)).mark_line(color=NEGBLUE, strokeWidth=3, strokeCap="round")
    .encode(x=NX, y=NY, detail="eid:N", order="k:Q"),
]
for field, shape in (("reg", LEFT_HALF), ("role", RIGHT_HALF)):
    for cat in (("Down", "Up") if field == "reg" else ("Risk", "Favorable")):
        b_layers.append(
            alt.Chart(nodes).transform_filter(alt.datum[field] == cat)
            .mark_point(shape=shape, filled=True, opacity=1, strokeWidth=0, color=CAT_COLORS[cat])
            .encode(x=NX, y=NY, size=alt.Size("p:Q", scale=SIZE, legend=None)))

LABEL_OFFSETS = {"above": (0, -24), "below": (0, 25), "aboveright": (15, -16), "belowright": (16, 17)}
for pos, (dx, dy) in LABEL_OFFSETS.items():
    for reg, col in (("Down", "#E8141B"), ("Up", "#999999")):
        b_layers.append(
            alt.Chart(nodes).transform_filter((alt.datum.pos == pos) & (alt.datum.reg == reg))
            .mark_text(font=SERIF, fontWeight="bold", fontSize=13, dx=dx, dy=dy, align="center",
                       baseline="middle", color=col)
            .encode(x=NX, y=NY, text="name:N"))

# legends of panel B
for lab, yp, sz, fs, xd, xt in (("Down", 1172, 400, 39, 917, 954), ("Up", 1220, 400, 39, 917, 954),
                                ("Risk", 1556, 290, 31.5, 912, 944), ("Favorable", 1597, 290, 31.5, 912, 944)):
    text = {"Risk": "Risk factors", "Favorable": "Favorable factors"}.get(lab, lab)
    b_layers.append(alt.Chart(ONE).mark_point(filled=True, opacity=1, size=sz, color=CAT_COLORS[lab])
                    .encode(x=alt.value(px(xd)), y=alt.value(py(yp))))
    b_layers.append(alt.Chart(ONE).mark_text(align="left", baseline="middle", fontSize=fs, font=FONT, color="black")
                    .encode(x=alt.value(px(xt)), y=alt.value(py(yp)), text=alt.value(text)))

for col, yp, text in ((PINK, 1800, "Postive correlation with P<0.0001"),
                      (NEGBLUE, 1835, "Negative correlation with P<0.0001")):
    b_layers.append(alt.Chart(ONE).mark_rule(color=col, strokeWidth=4)
                    .encode(x=alt.value(px(360)), x2=alt.value(px(416)), y=alt.value(py(yp))))
    b_layers.append(alt.Chart(ONE).mark_text(align="left", baseline="middle", fontSize=28, font=FONT, color="black")
                    .encode(x=alt.value(px(440)), y=alt.value(py(yp)), text=alt.value(text)))

b_layers.append(alt.Chart(ONE).mark_text(align="center", baseline="middle", fontSize=28, font=FONT, color="black")
                .encode(x=alt.value(px(613)), y=alt.value(py(1876)), text=alt.value("Cox test, pvalue")))
for cxp, d, txp, text in ((304, 57, 329, "1e\u221204"), (435, 48, 461, "0.001"), (565, 40, 593, "0.01"),
                          (696, 32, 722, "0.05"), (826, 28, 852, "1")):
    b_layers.append(alt.Chart(ONE).mark_point(filled=True, opacity=1, color="black", size=d * d)
                    .encode(x=alt.value(px(cxp)), y=alt.value(py(1921))))
    b_layers.append(alt.Chart(ONE).mark_text(align="left", baseline="middle", fontSize=29, font=FONT, color="black")
                    .encode(x=alt.value(px(txp)), y=alt.value(py(1921)), text=alt.value(text)))

b_layers.append(alt.Chart(ONE).mark_text(align="center", baseline="alphabetic", fontSize=58, fontWeight="bold",
                                         font=FONT, color="#222222")
                .encode(x=alt.value(px(141)), y=alt.value(py(1060)), text=alt.value("B")))

panel_b = alt.layer(*b_layers).properties(width=BW, height=BH)

chart = alt.vconcat(*row_charts, panel_b, spacing=0).properties(padding=0).configure_view(
    strokeWidth=0
).configure_axis(
    labelFont=FONT, titleFont=FONT, titleFontWeight="normal", grid=False, domainColor="black",
    tickColor="black", labelColor="black", titleColor="black", domainWidth=1.2, tickWidth=1.1
)

chart.save("out.html", embed_options={"renderer": "svg", "actions": False})
